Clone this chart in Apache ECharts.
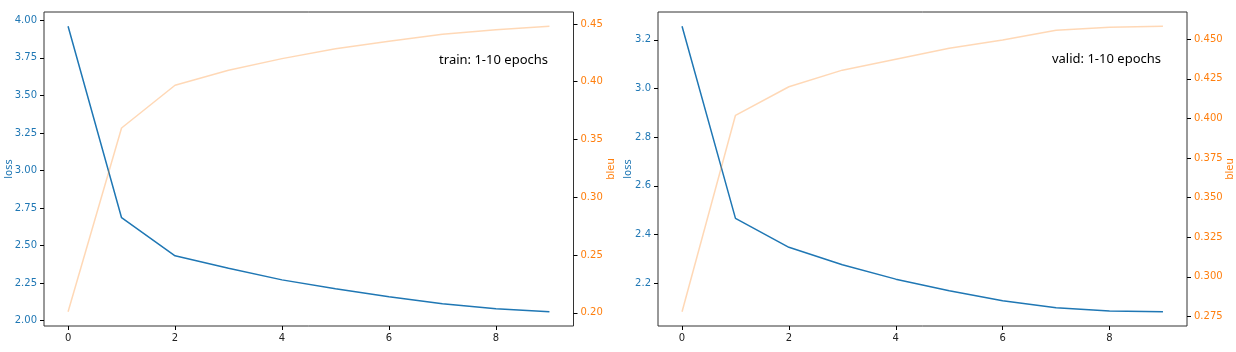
<!DOCTYPE html>
<html>
<head>
<meta charset="utf-8">
<script src="https://cdn.jsdelivr.net/npm/echarts@6/dist/echarts.min.js"></script>
<style>
  html, body { margin: 0; padding: 0; background: #fff; }
  #chart { width: 1236px; height: 352px; }
</style>
</head>
<body>
<div id="chart"></div>
<script>
// epochs 0..9
const epochs = [0, 1, 2, 3, 4, 5, 6, 7, 8, 9];
const trainLoss = [3.96, 2.686, 2.432, 2.35, 2.272, 2.213, 2.159, 2.113, 2.08, 2.06];
const trainBleu = [0.201, 0.36, 0.397, 0.41, 0.42, 0.4285, 0.435, 0.441, 0.445, 0.448];
const validLoss = [3.256, 2.466, 2.347, 2.275, 2.216, 2.168, 2.127, 2.098, 2.085, 2.082];
const validBleu = [0.278, 0.402, 0.42, 0.4305, 0.4374, 0.4443, 0.4496, 0.4557, 0.4576, 0.4582];

const xTicks = [0, 2, 4, 6, 8];
const trainLossTicks = [2.0, 2.25, 2.5, 2.75, 3.0, 3.25, 3.5, 3.75, 4.0];
const trainBleuTicks = [0.2, 0.25, 0.3, 0.35, 0.4, 0.45];
const validLossTicks = [2.2, 2.4, 2.6, 2.8, 3.0, 3.2];
const validBleuTicks = [0.275, 0.3, 0.325, 0.35, 0.375, 0.4, 0.425, 0.45];

const BLUE = "#1f77b4";
const ORANGE = "#ff7f0e";
const FONT = "DejaVu Sans";

// matplotlib-like 5% margins around the data
function range(arr) {
  const lo = Math.min(...arr), hi = Math.max(...arr);
  const m = (hi - lo) * 0.05;
  return { min: lo - m, max: hi + m };
}
const xr = range(epochs);

function xAxis(gridIndex) {
  return {
    type: "value",
    gridIndex: gridIndex,
    min: xr.min,
    max: xr.max,
    axisLine: { show: false, onZero: false },
    splitLine: { show: false },
    axisTick: { show: true, length: 4, customValues: xTicks, lineStyle: { color: "#000" } },
    axisLabel: {
      customValues: xTicks,
      margin: 7,
      color: "#222",
      fontFamily: FONT,
      fontSize: 10,
    },
  };
}

function yAxis(gridIndex, pos, data, ticks, color, name, digits, gap, margin) {
  const r = range(data);
  return {
    type: "value",
    gridIndex: gridIndex,
    position: pos,
    min: r.min,
    max: r.max,
    name: name,
    nameLocation: "middle",
    nameRotate: 90,
    nameGap: gap,
    nameMoveOverlap: false,
    nameTextStyle: { color: color, fontFamily: FONT, fontSize: 10 },
    axisLine: { show: false, onZero: false },
    splitLine: { show: false },
    axisTick: { show: true, length: 4, customValues: ticks, lineStyle: { color: "#000" } },
    axisLabel: {
      customValues: ticks,
      margin: margin,
      color: color,
      fontFamily: FONT,
      fontSize: 10,
      formatter: (v) => v.toFixed(digits),
    },
  };
}

function line(name, xi, yi, data, color, opacity) {
  return {
    name: name,
    type: "line",
    xAxisIndex: xi,
    yAxisIndex: yi,
    data: epochs.map((e, i) => [e, data[i]]),
    showSymbol: false,
    lineStyle: { color: color, width: 1.5, opacity: opacity },
    silent: true,
  };
}

const chart = echarts.init(document.getElementById("chart"));
chart.setOption({
  animation: false,
  grid: [
    { left: 44, top: 12, width: 529.5, height: 314, show: true, borderColor: "#333", borderWidth: 1 },
    { left: 658, top: 12, width: 529.5, height: 314, show: true, borderColor: "#333", borderWidth: 1 },
  ],
  xAxis: [xAxis(0), xAxis(1)],
  yAxis: [
    yAxis(0, "left", trainLoss, trainLossTicks, BLUE, "loss", 2, 30, 7),
    yAxis(0, "right", trainBleu, trainBleuTicks, ORANGE, "bleu", 2, 33, 7),
    yAxis(1, "left", validLoss, validLossTicks, BLUE, "loss", 1, 25, 7),
    yAxis(1, "right", validBleu, validBleuTicks, ORANGE, "bleu", 3, 38, 7),
  ],
  series: [
    line("train loss", 0, 0, trainLoss, BLUE, 1),
    line("train bleu", 0, 1, trainBleu, ORANGE, 0.3),
    line("valid loss", 1, 2, validLoss, BLUE, 1),
    line("valid bleu", 1, 3, validBleu, ORANGE, 0.3),
  ],
  graphic: [
    {
      type: "text",
      x: 548,
      y: 60,
      style: { text: "train: 1-10 epochs", textAlign: "right", textVerticalAlign: "middle", fill: "#000", font: "13px 'Noto Sans'" },
    },
    {
      type: "text",
      x: 1161,
      y: 59,
      style: { text: "valid: 1-10 epochs", textAlign: "right", textVerticalAlign: "middle", fill: "#000", font: "13px 'Noto Sans'" },
    },
  ],
});
</script>
</body>
</html>
